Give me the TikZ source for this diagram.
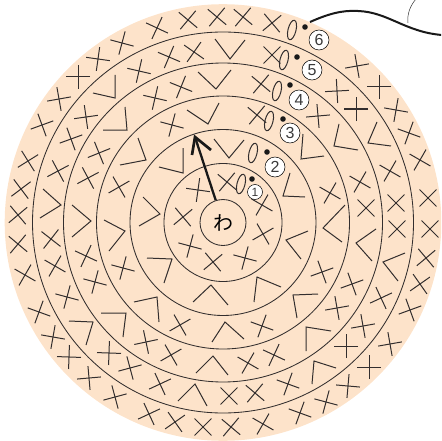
\documentclass[tikz,border=0pt]{standalone}
\usepackage{fontspec}
\setsansfont{Liberation Sans}
\newfontfamily\cjkf{Noto Sans CJK JP}
\definecolor{skin}{HTML}{FDE3CA}
\definecolor{ink}{HTML}{332E2E}
\definecolor{numink}{HTML}{3A3A3A}
\tikzset{
  mk/.style={draw=ink,line width=1pt},
  ring/.style={draw=ink,line width=0.85pt},
  numc/.style={circle,draw=black,line width=0.5pt,fill=white,inner sep=0pt,minimum size=20pt,text=numink,font=\sffamily\fontsize{16}{16}\selectfont},
  nums/.style={numc,minimum size=15pt,font=\sffamily\fontsize{12}{12}\selectfont},
}
\newcommand\xcr[3]{\draw[mk] ([shift={(#1,#2)}]#3:12)--([shift={(#1,#2)}]#3+180:12);
  \draw[mk] ([shift={(#1,#2)}]#3+90:12)--([shift={(#1,#2)}]#3+270:12);}
\begin{document}
\begin{tikzpicture}[x=1pt,y=-1pt]
\useasboundingbox (0,0) rectangle (441,441);
\begin{scope}
\clip (0,0) rectangle (441,441);
\fill[skin] (223,222.5) circle[radius=218.3];
\foreach \r in {59,93,126.5,159.5,190.5}
  \draw[ring] (223,222.5) circle[radius=\r];
% crosses
\foreach \x/\y/\t in {
 188/20/40,217/17/40,243/17/40,272/23/-40,157/28/25,122/43/15,98/59/8,78/77/0,59/99/-10,42/125/-20,
 28/161/-32,21/189/-37,18/215/-40,18/244/40,25/275/30,39/312/20,53/337/10,69/357/2,89/378/-5,115/397/-15,
 149/414/-25,175/422/-35,203/427/-45,231/427/40,263/424/30,300/413/20,326/402/15,348/386/5,369/367/0,390/344/-10,
 410/310/-20,420/284/-35,426/258/-40,430/229/45,428/198/45,420/160/30,409/133/20,396/110/10,379/87/0,357/66/-10,
 194/52/35,169/57/23,139/71/13,272/55/45,86/117/-8,71/139/-20,58/171/-28,51/239/38,55/266/30,67/297/15,
 109/353/2,130/368/-15,160/384/-25,229/396/45,255/393/40,288/384/20,346/346/0,363/326/-10,381/298/-25,397/229/45,
 396/203/45,390/171/30,356/109/0,337/91/-3,
 181/87/22,155/98/13,261/84/40,99/153/-22,88/178/-28,86/256/25,95/282/15,146/342/-12,171/355/-30,248/363/30,
 274/355/25,337/308/-10,352/284/-20,366/208/45,360/182/30,318/116/-5,
 172/125/15,119/187/-30,123/268/15,180/325/-30,262/326/20,322/272/-20,330/193/30,257/115/40,
 198/190/8,183/217/-40,190/246/15,213/262/-40,245/258/15,263/234/-30,262/205/30,227/182/40}
  {\xcr{\x}{\y}{\t}}
% V and L shapes: vertex / arm / arm
\foreach \vx/\vy/\ax/\ay/\bx/\by in {
 230/59/215/39/245/40, 115/98/115/75/93/93, 61/205/43/189/40/218, 93/322/69/321/86/345, 195/384/178/401/207/406,
 314/361/312/384/336/368, 383/262/405/253/398/281, 368/143/377/122/391/146,
 216/89/198/72/231/70, 127/130/125/107/103/130, 91/221/72/205/72/237, 126/313/101/313/123/337, 213/356/196/373/228/375,
 306/327/306/351/331/331, 356/243/376/229/372/261, 334/146/339/124/358/150,
 208/124/187/110/219/103, 146/160/138/138/120/165, 125/231/104/220/109/251, 157/297/134/302/159/322, 225/322/212/342/244/339,
 293/295/297/318/318/294, 323/228/345/205/342/242, 301/159/303/134/324/156,
 229/158/214/139/244/140, 183/173/183/148/159/167, 160/214/143/197/139/226, 172/259/147/258/164/283, 211/285/193/302/228/305,
 257/277/254/302/281/287, 286/240/308/231/301/259, 283/196/290/173/305/197}
  {\draw[mk] (\ax,\ay)--(\vx,\vy)--(\bx,\by);}
% ovals
\foreach \x/\y/\h in {292/30/10,284/60/10,277/91/10,269/121/10,253/153/10,241/184/10}
  \draw[mk,shift={(\x,\y)},rotate=-14] (0,0) ellipse[x radius=4,y radius=\h];
% dots
\foreach \x/\y in {305/27,297/57,290/85,283/119,267/152,252/179}
  \fill[black!90] (\x,\y) circle[radius=2.8];
\node[numc] (n6) at (319,40) {6};
\node[numc] (n5) at (312,70) {5};
\node[numc] (n4) at (299,100) {4};
\node[numc] (n3) at (290,133) {3};
\node[numc] (n2) at (275,167) {2};
\node[nums] (n1) at (255,192) {1};
\node[circle,draw=ink,line width=0.85pt,minimum size=46pt,inner sep=0pt,font=\cjkf\fontsize{20}{20}\selectfont,text=black] (wa) at (223,222.5) {わ};
\coordinate (tip) at (195,137);
\coordinate (barbA) at (192,155);
\coordinate (barbB) at (211,150);
\draw[line width=2.3pt,draw=black!90] (wa)--(tip);
\draw[line width=2.7pt,draw=black!90,line join=miter] (barbA)--(tip)--(barbB);
\coordinate (yarnS) at (310,22);
\coordinate (yarnM) at (358,11);
\coordinate (yarnE) at (442,35);
\draw[line width=2pt,draw=black!90] (yarnS) .. controls (328,14) and (342,10) .. (yarnM) .. controls (388,12) and (405,32) .. (yarnE);
\coordinate (thinS) at (416,-1);
\coordinate (thinE) at (408,23);
\draw[line width=0.5pt,draw=black!80] (thinS) .. controls (410,6) and (407,14) .. (thinE);
\end{scope}
\end{tikzpicture}
\end{document}
